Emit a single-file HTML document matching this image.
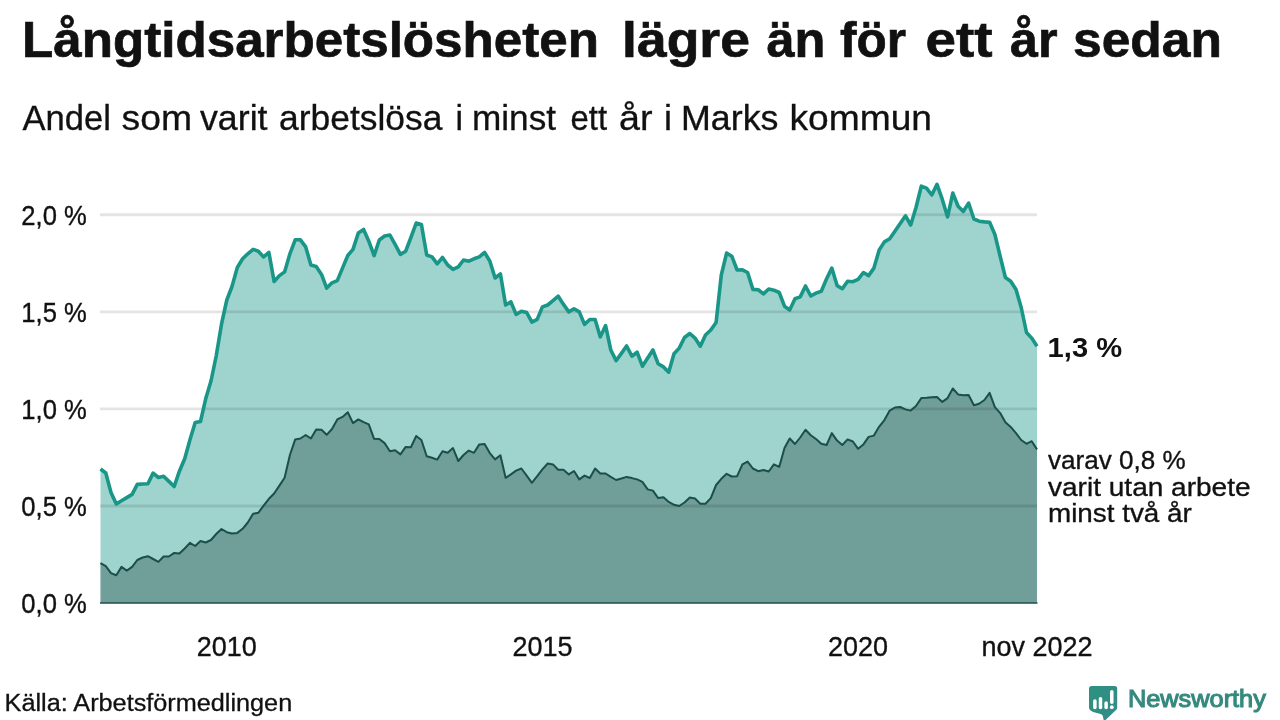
<!DOCTYPE html>
<html lang="sv">
<head>
<meta charset="utf-8">
<title>Långtidsarbetslösheten lägre än för ett år sedan</title>
<style>
html,body{margin:0;padding:0;background:#fff;}
body{width:1280px;height:720px;overflow:hidden;font-family:"Liberation Sans",Arial,sans-serif;}
svg{display:block;}
text{font-family:"Liberation Sans",Arial,sans-serif;fill:#111;}
.grid line{stroke:#000;stroke-opacity:0.105;stroke-width:2.9;}
.ax{font-size:27px;stroke:#111;stroke-width:0.35px;}
.lb{font-size:26.5px;stroke:#111;stroke-width:0.35px;}
.sub{stroke:#111;stroke-width:0.3px;}
</style>
</head>
<body>
<svg width="1280" height="720" viewBox="0 0 1280 720">
<rect width="1280" height="720" fill="#ffffff"/>
<text y="56.6" font-size="50.8" font-weight="bold" stroke="#111" stroke-width="0.7"><tspan x="22.0" textLength="577.0" lengthAdjust="spacingAndGlyphs">Långtidsarbetslösheten</tspan> <tspan x="622.0" textLength="128.0" lengthAdjust="spacingAndGlyphs">lägre</tspan> <tspan x="766.5" textLength="59.0" lengthAdjust="spacingAndGlyphs">än</tspan> <tspan x="840.0" textLength="66.0" lengthAdjust="spacingAndGlyphs">för</tspan> <tspan x="925.5" textLength="67.0" lengthAdjust="spacingAndGlyphs">ett</tspan> <tspan x="1010.0" textLength="47.5" lengthAdjust="spacingAndGlyphs">år</tspan> <tspan x="1073.0" textLength="149.0" lengthAdjust="spacingAndGlyphs">sedan</tspan></text>
<text y="129.8" class="sub" font-size="34.2"><tspan x="22.5" textLength="88.5" lengthAdjust="spacingAndGlyphs">Andel</tspan> <tspan x="121.5" textLength="70.5" lengthAdjust="spacingAndGlyphs">som</tspan> <tspan x="200.0" textLength="67.5" lengthAdjust="spacingAndGlyphs">varit</tspan> <tspan x="279.0" textLength="163.5" lengthAdjust="spacingAndGlyphs">arbetslösa</tspan> <tspan x="455.5" textLength="7.5" lengthAdjust="spacingAndGlyphs">i</tspan> <tspan x="472.0" textLength="84.0" lengthAdjust="spacingAndGlyphs">minst</tspan> <tspan x="570.5" textLength="36.5" lengthAdjust="spacingAndGlyphs">ett</tspan> <tspan x="619.0" textLength="33.5" lengthAdjust="spacingAndGlyphs">år</tspan> <tspan x="664.0" textLength="8.0" lengthAdjust="spacingAndGlyphs">i</tspan> <tspan x="681.0" textLength="97.5" lengthAdjust="spacingAndGlyphs">Marks</tspan> <tspan x="789.5" textLength="142.5" lengthAdjust="spacingAndGlyphs">kommun</tspan></text>
<text class="ax" x="86.8" y="224.6" text-anchor="end" textLength="65.5" lengthAdjust="spacingAndGlyphs">2,0 %</text>
<text class="ax" x="86.8" y="321.7" text-anchor="end" textLength="65.5" lengthAdjust="spacingAndGlyphs">1,5 %</text>
<text class="ax" x="86.8" y="418.7" text-anchor="end" textLength="65.5" lengthAdjust="spacingAndGlyphs">1,0 %</text>
<text class="ax" x="86.8" y="515.8" text-anchor="end" textLength="65.5" lengthAdjust="spacingAndGlyphs">0,5 %</text>
<text class="ax" x="86.8" y="612.8" text-anchor="end" textLength="65.5" lengthAdjust="spacingAndGlyphs">0,0 %</text>
<polygon fill="#1b998b" fill-opacity="0.42" points="100.5,469 105.8,473 111,492.5 116.3,504 121.5,500.8 126.8,497.6 132.1,494.4 137.3,484.4 142.6,484 147.9,483.8 153.1,473.1 158.4,477.5 163.6,476.2 168.9,481.4 174.2,486.5 179.4,471.2 184.7,458.8 189.9,440 195.2,422.5 200.5,421.5 205.7,398.8 211,381 216.2,356 221.5,324.2 226.8,300 232,286.5 237.3,267.5 242.6,258.8 247.8,253.8 253.1,249.4 258.3,251.2 263.6,256.9 268.9,252.5 274.1,281.5 279.4,275.6 284.6,271.9 289.9,253.8 295.2,239.8 300.4,239.8 305.7,246.9 310.9,265 316.2,266.5 321.5,274.4 326.7,288.1 332,282.8 337.3,280.6 342.5,268.1 347.8,255.5 353,249.4 358.3,233.1 363.6,229.4 368.8,241.2 374.1,255.6 379.3,240 384.6,236 389.9,235 395.1,244.4 400.4,254.4 405.7,251.2 410.9,237.5 416.2,223.1 421.4,224.4 426.7,255 432,256.9 437.2,263.8 442.5,257.5 447.7,265 453,269.4 458.3,266.9 463.5,260 468.8,261.2 474,258.8 479.3,256.9 484.6,252.5 489.8,261 495.1,278 500.4,273.8 505.6,305 510.9,301.9 516.1,314.4 521.4,311.2 526.7,312.5 531.9,322.2 537.2,319.4 542.4,306.9 547.7,305 553,300.6 558.2,296.2 563.5,304.4 568.8,311.9 574,308.8 579.3,311.9 584.5,324.4 589.8,319.5 595.1,319.5 600.3,336.9 605.6,325.6 610.8,350 616.1,360.6 621.4,353.4 626.6,346 631.9,356.2 637.1,352.2 642.4,366.2 647.7,358.1 652.9,350 658.2,363.8 663.5,366.9 668.7,372.2 674,353.8 679.2,348.1 684.5,337.5 689.8,333.5 695,338.1 700.3,346.2 705.5,335 710.8,330 716.1,322.5 721.3,275 726.6,253.1 731.8,256.2 737.1,270 742.4,269.8 747.6,272.5 752.9,289.4 758.2,289.8 763.4,293.8 768.7,289 773.9,290.2 779.2,292.5 784.5,306.2 789.7,310 795,298.8 800.2,296.9 805.5,286 810.8,296 816,293.1 821.3,291.2 826.6,278.8 831.8,268.1 837.1,285.6 842.3,288.7 847.6,281.2 852.9,281.7 858.1,279.4 863.4,272.5 868.6,275.6 873.9,268.1 879.2,250 884.4,241.9 889.7,238.8 894.9,231.2 900.2,223.4 905.5,215.8 910.7,225 916,207.5 921.3,186.2 926.5,188.1 931.8,195 937,184.4 942.3,199.4 947.6,216.9 952.8,193.1 958.1,206.2 963.3,211.5 968.6,203.1 973.9,219 979.1,221.2 984.4,221.9 989.6,222.2 994.9,234.5 1000.2,256.5 1005.4,277.5 1010.7,281.2 1016,289.4 1021.2,307.5 1026.5,332.5 1031.7,338.1 1037,346.2 1037,603 100.5,603"/>
<polygon fill="#2a4e4a" fill-opacity="0.4" points="100.5,563.1 105.8,566.2 111,573.1 116.3,575.2 121.5,566.9 126.8,570.6 132.1,566.9 137.3,560 142.6,557.5 147.9,556.2 153.1,559 158.4,561.9 163.6,556.5 168.9,556.5 174.2,552.9 179.4,553.5 184.7,548.5 189.9,542.8 195.2,546 200.5,541 205.7,542.5 211,540 216.2,534 221.5,529 226.8,532.2 232,533.5 237.3,532.9 242.6,528.8 247.8,522.5 253.1,513.8 258.3,512.8 263.6,505.6 268.9,498.8 274.1,493.5 279.4,485.6 284.6,477.8 289.9,455 295.2,439.4 300.4,438.5 305.7,435 310.9,438.5 316.2,429.4 321.5,429.8 326.7,434.8 332,429 337.3,419.4 342.5,416.9 347.8,412.2 353,423.1 358.3,419.4 363.6,422.2 368.8,424.4 374.1,438.8 379.3,439 384.6,443.1 389.9,451.2 395.1,450.2 400.4,454.4 405.7,446.9 410.9,447.2 416.2,436 421.4,440 426.7,456.2 432,457.8 437.2,459.6 442.5,451.2 447.7,452.8 453,448.1 458.3,461 463.5,455 468.8,450.6 474,452.8 479.3,444.4 484.6,444 489.8,453.1 495.1,459.4 500.4,455.2 505.6,477.8 510.9,474.4 516.1,470.6 521.4,468.5 526.7,475.6 531.9,482.8 537.2,476.2 542.4,469.4 547.7,463.5 553,464.4 558.2,469.8 563.5,469.8 568.8,474.4 574,471 579.3,479.4 584.5,475.6 589.8,478 595.1,468.5 600.3,473.5 605.6,473.5 610.8,476.9 616.1,480 621.4,478.5 626.6,476.9 631.9,478.1 637.1,479.4 642.4,481.9 647.7,489.4 652.9,490.6 658.2,498.1 663.5,497.2 668.7,501.9 674,504.8 679.2,506 684.5,502.5 689.8,497.5 695,498.5 700.3,503.8 705.5,503.8 710.8,498.1 716.1,485 721.3,478.8 726.6,473.8 731.8,476.5 737.1,476.2 742.4,464.4 747.6,461.6 752.9,468.5 758.2,471.2 763.4,470 768.7,471.5 773.9,464.4 779.2,466.9 784.5,448.1 789.7,438.5 795,444 800.2,437.5 805.5,429.8 810.8,435.2 816,439 821.3,443.8 826.6,445 831.8,433.1 837.1,440.6 842.3,445 847.6,439.4 852.9,441.5 858.1,448.8 863.4,444.4 868.6,436.9 873.9,435.6 879.2,426.6 884.4,420.1 889.7,410.6 894.9,407.5 900.2,407 905.5,409.4 910.7,410.6 916,406 921.3,398.1 926.5,397.8 931.8,397.2 937,396.9 942.3,401.9 947.6,398.1 952.8,388.5 958.1,394.4 963.3,395.2 968.6,395 973.9,405.2 979.1,403.8 984.4,400 989.6,392.8 994.9,407.2 1000.2,413.1 1005.4,422.2 1010.7,426.9 1016,433.1 1021.2,440 1026.5,443.8 1031.7,441.2 1037,449.4 1037,603 100.5,603"/>
<g class="grid">
<line x1="100" x2="1037" y1="214.8" y2="214.8"/>
<line x1="100" x2="1037" y1="311.9" y2="311.9"/>
<line x1="100" x2="1037" y1="408.9" y2="408.9"/>
<line x1="100" x2="1037" y1="506" y2="506"/>
</g>
<polyline fill="none" stroke="#1a9688" stroke-width="3.6" stroke-linejoin="round" points="100.5,469 105.8,473 111,492.5 116.3,504 121.5,500.8 126.8,497.6 132.1,494.4 137.3,484.4 142.6,484 147.9,483.8 153.1,473.1 158.4,477.5 163.6,476.2 168.9,481.4 174.2,486.5 179.4,471.2 184.7,458.8 189.9,440 195.2,422.5 200.5,421.5 205.7,398.8 211,381 216.2,356 221.5,324.2 226.8,300 232,286.5 237.3,267.5 242.6,258.8 247.8,253.8 253.1,249.4 258.3,251.2 263.6,256.9 268.9,252.5 274.1,281.5 279.4,275.6 284.6,271.9 289.9,253.8 295.2,239.8 300.4,239.8 305.7,246.9 310.9,265 316.2,266.5 321.5,274.4 326.7,288.1 332,282.8 337.3,280.6 342.5,268.1 347.8,255.5 353,249.4 358.3,233.1 363.6,229.4 368.8,241.2 374.1,255.6 379.3,240 384.6,236 389.9,235 395.1,244.4 400.4,254.4 405.7,251.2 410.9,237.5 416.2,223.1 421.4,224.4 426.7,255 432,256.9 437.2,263.8 442.5,257.5 447.7,265 453,269.4 458.3,266.9 463.5,260 468.8,261.2 474,258.8 479.3,256.9 484.6,252.5 489.8,261 495.1,278 500.4,273.8 505.6,305 510.9,301.9 516.1,314.4 521.4,311.2 526.7,312.5 531.9,322.2 537.2,319.4 542.4,306.9 547.7,305 553,300.6 558.2,296.2 563.5,304.4 568.8,311.9 574,308.8 579.3,311.9 584.5,324.4 589.8,319.5 595.1,319.5 600.3,336.9 605.6,325.6 610.8,350 616.1,360.6 621.4,353.4 626.6,346 631.9,356.2 637.1,352.2 642.4,366.2 647.7,358.1 652.9,350 658.2,363.8 663.5,366.9 668.7,372.2 674,353.8 679.2,348.1 684.5,337.5 689.8,333.5 695,338.1 700.3,346.2 705.5,335 710.8,330 716.1,322.5 721.3,275 726.6,253.1 731.8,256.2 737.1,270 742.4,269.8 747.6,272.5 752.9,289.4 758.2,289.8 763.4,293.8 768.7,289 773.9,290.2 779.2,292.5 784.5,306.2 789.7,310 795,298.8 800.2,296.9 805.5,286 810.8,296 816,293.1 821.3,291.2 826.6,278.8 831.8,268.1 837.1,285.6 842.3,288.7 847.6,281.2 852.9,281.7 858.1,279.4 863.4,272.5 868.6,275.6 873.9,268.1 879.2,250 884.4,241.9 889.7,238.8 894.9,231.2 900.2,223.4 905.5,215.8 910.7,225 916,207.5 921.3,186.2 926.5,188.1 931.8,195 937,184.4 942.3,199.4 947.6,216.9 952.8,193.1 958.1,206.2 963.3,211.5 968.6,203.1 973.9,219 979.1,221.2 984.4,221.9 989.6,222.2 994.9,234.5 1000.2,256.5 1005.4,277.5 1010.7,281.2 1016,289.4 1021.2,307.5 1026.5,332.5 1031.7,338.1 1037,346.2"/>
<polyline fill="none" stroke="#1c4e4a" stroke-width="2" stroke-linejoin="round" points="100.5,563.1 105.8,566.2 111,573.1 116.3,575.2 121.5,566.9 126.8,570.6 132.1,566.9 137.3,560 142.6,557.5 147.9,556.2 153.1,559 158.4,561.9 163.6,556.5 168.9,556.5 174.2,552.9 179.4,553.5 184.7,548.5 189.9,542.8 195.2,546 200.5,541 205.7,542.5 211,540 216.2,534 221.5,529 226.8,532.2 232,533.5 237.3,532.9 242.6,528.8 247.8,522.5 253.1,513.8 258.3,512.8 263.6,505.6 268.9,498.8 274.1,493.5 279.4,485.6 284.6,477.8 289.9,455 295.2,439.4 300.4,438.5 305.7,435 310.9,438.5 316.2,429.4 321.5,429.8 326.7,434.8 332,429 337.3,419.4 342.5,416.9 347.8,412.2 353,423.1 358.3,419.4 363.6,422.2 368.8,424.4 374.1,438.8 379.3,439 384.6,443.1 389.9,451.2 395.1,450.2 400.4,454.4 405.7,446.9 410.9,447.2 416.2,436 421.4,440 426.7,456.2 432,457.8 437.2,459.6 442.5,451.2 447.7,452.8 453,448.1 458.3,461 463.5,455 468.8,450.6 474,452.8 479.3,444.4 484.6,444 489.8,453.1 495.1,459.4 500.4,455.2 505.6,477.8 510.9,474.4 516.1,470.6 521.4,468.5 526.7,475.6 531.9,482.8 537.2,476.2 542.4,469.4 547.7,463.5 553,464.4 558.2,469.8 563.5,469.8 568.8,474.4 574,471 579.3,479.4 584.5,475.6 589.8,478 595.1,468.5 600.3,473.5 605.6,473.5 610.8,476.9 616.1,480 621.4,478.5 626.6,476.9 631.9,478.1 637.1,479.4 642.4,481.9 647.7,489.4 652.9,490.6 658.2,498.1 663.5,497.2 668.7,501.9 674,504.8 679.2,506 684.5,502.5 689.8,497.5 695,498.5 700.3,503.8 705.5,503.8 710.8,498.1 716.1,485 721.3,478.8 726.6,473.8 731.8,476.5 737.1,476.2 742.4,464.4 747.6,461.6 752.9,468.5 758.2,471.2 763.4,470 768.7,471.5 773.9,464.4 779.2,466.9 784.5,448.1 789.7,438.5 795,444 800.2,437.5 805.5,429.8 810.8,435.2 816,439 821.3,443.8 826.6,445 831.8,433.1 837.1,440.6 842.3,445 847.6,439.4 852.9,441.5 858.1,448.8 863.4,444.4 868.6,436.9 873.9,435.6 879.2,426.6 884.4,420.1 889.7,410.6 894.9,407.5 900.2,407 905.5,409.4 910.7,410.6 916,406 921.3,398.1 926.5,397.8 931.8,397.2 937,396.9 942.3,401.9 947.6,398.1 952.8,388.5 958.1,394.4 963.3,395.2 968.6,395 973.9,405.2 979.1,403.8 984.4,400 989.6,392.8 994.9,407.2 1000.2,413.1 1005.4,422.2 1010.7,426.9 1016,433.1 1021.2,440 1026.5,443.8 1031.7,441.2 1037,449.4"/>
<line x1="100" x2="1037.5" y1="603" y2="603" stroke="#1c4e4a" stroke-width="1.4"/>
<text class="ax" x="226.8" y="656.3" text-anchor="middle" textLength="60" lengthAdjust="spacingAndGlyphs">2010</text>
<text class="ax" x="542.4" y="656.3" text-anchor="middle" textLength="60" lengthAdjust="spacingAndGlyphs">2015</text>
<text class="ax" x="858.1" y="656.3" text-anchor="middle" textLength="60" lengthAdjust="spacingAndGlyphs">2020</text>
<text class="ax" x="1037" y="656.3" text-anchor="middle" textLength="111" lengthAdjust="spacingAndGlyphs">nov 2022</text>
<text x="1047.6" y="356.8" font-size="27.6" font-weight="bold" textLength="74.5" lengthAdjust="spacingAndGlyphs">1,3 %</text>
<text class="lb" x="1048" y="468.6" textLength="137.6" lengthAdjust="spacingAndGlyphs">varav 0,8 %</text>
<text class="lb" x="1048" y="495.6" textLength="202.6" lengthAdjust="spacingAndGlyphs">varit utan arbete</text>
<text class="lb" x="1048" y="521.7" textLength="143.8" lengthAdjust="spacingAndGlyphs">minst två år</text>
<text class="sub" x="4.6" y="711" font-size="23" textLength="287.6" lengthAdjust="spacingAndGlyphs">Källa: Arbetsförmedlingen</text>
<defs><linearGradient id="lg" x1="0" y1="0" x2="1" y2="1"><stop offset="0" stop-color="#2e9181"/><stop offset="0.6" stop-color="#318d82"/><stop offset="1" stop-color="#3c8893"/></linearGradient></defs>
<g id="logo">
<path d="M1091.6 686.1h23a2.6 2.6 0 0 1 2.6 2.6v19.2a2.4 2.4 0 0 1 -0.9 1.8l-11.8 11.3h-0.6l-1.1 -4.9q-0.5 -1.6 -2.2 -2.1l-7.4 -2.1q-4.2 -1.2 -4.2 -4.6v-18.6a2.6 2.6 0 0 1 2.6 -2.6z" fill="url(#lg)"/>
<g stroke="#ffffff" stroke-width="3.5" stroke-linecap="round">
<line x1="1094.9" y1="701" x2="1094.9" y2="707.5"/>
<line x1="1100.5" y1="698.7" x2="1100.5" y2="707.5"/>
<line x1="1106.1" y1="703.1" x2="1106.1" y2="707.5"/>
<line x1="1111.8" y1="691.7" x2="1111.8" y2="702.2"/>
</g>
<circle cx="1111.8" cy="707.2" r="1.9" fill="#ffffff"/>
<text x="1127.9" y="706.8" font-size="24.2" style="fill:#35897f;stroke:#35897f;stroke-width:1.1px" textLength="138" lengthAdjust="spacingAndGlyphs">Newsworthy</text>
</g>
</svg>
</body>
</html>
